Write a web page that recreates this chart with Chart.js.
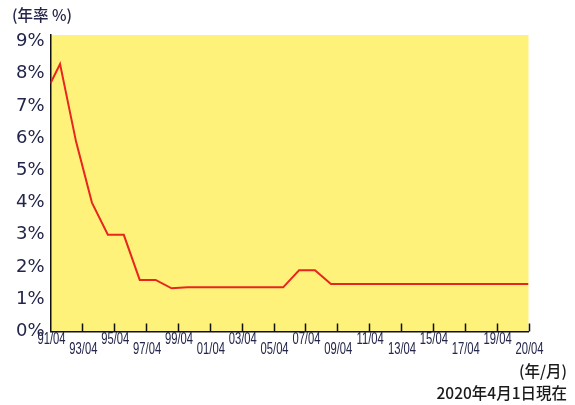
<!DOCTYPE html>
<html>
<head>
<meta charset="utf-8">
<script src="https://cdn.jsdelivr.net/npm/chart.js@4/dist/chart.umd.min.js"></script>
<style>
html,body{margin:0;padding:0;background:#fff;}
#c{display:block;}
</style>
</head>
<body>
<canvas id="c" width="575" height="405"></canvas>
<script>
// tick labels along the x axis (one per tick interval)
const xLabels = ['91/04','93/04','95/04','97/04','99/04','01/04','03/04','05/04','07/04','09/04','11/04','13/04','15/04','17/04','19/04','20/04'];
// positions of rate changes, in units of the x tick intervals above
const changePos = [0, 0.3, 0.8, 1.3, 1.8, 2.3, 2.8, 3.3, 3.8, 4.3, 7.3, 7.8, 8.3, 8.8, 9.3, 15];
// annual rate (%)
const rates = [7.7, 8.3, 5.9, 4.0, 3.0, 3.0, 1.6, 1.6, 1.34, 1.37, 1.37, 1.9, 1.9, 1.47, 1.47, 1.47];
const yTicks = [0,1,2,3,4,5,6,7,8,9];

const points = changePos.map((p, i) => ({x: p, y: rates[i]}));

const bgPlugin = {
  id: 'bg',
  beforeDraw(chart) {
    const {ctx, chartArea: a} = chart;
    ctx.save();
    ctx.fillStyle = '#fef27a';
    ctx.fillRect(a.left, a.top, a.right - a.left, a.bottom - a.top);
    ctx.restore();
  },
  afterDraw(chart) {
    const {ctx, chartArea: a} = chart;
    const xs = chart.scales.x;
    ctx.save();
    // inward tick marks
    ctx.strokeStyle = '#111';
    ctx.lineWidth = 1.5;
    ctx.beginPath();
    for (let i = 1; i < xLabels.length; i++) {
      const px = Math.round(xs.getPixelForValue(i)) + 0.5;
      ctx.moveTo(px, a.bottom);
      ctx.lineTo(px, a.bottom - 8);
    }
    ctx.stroke();
    // staggered condensed tick labels
    ctx.fillStyle = '#23254a';
    ctx.font = '17px "Liberation Sans", Arial, sans-serif';
    ctx.textAlign = 'center';
    ctx.textBaseline = 'middle';
    xLabels.forEach((lab, i) => {
      const px = xs.getPixelForValue(i) + 1;
      const py = (i % 2 === 0) ? 339.5 : 349;
      ctx.save();
      ctx.translate(px, py);
      ctx.scale(0.66, 1);
      ctx.fillText(lab, 0, 0);
      ctx.restore();
    });
    // texts
    ctx.font = '500 15.5px "Noto Sans CJK JP", sans-serif';
    ctx.fillStyle = '#23254a';
    ctx.textAlign = 'left';
    ctx.fillText('(年率 %)', 12, 15);
    ctx.textAlign = 'right';
    ctx.fillStyle = '#1a1a1a';
    ctx.font = '500 15.5px "Noto Sans CJK JP", sans-serif';
    ctx.fillText('(年/月)', 567, 371);
    ctx.fillText('2020年4月1日現在', 567, 393);
    ctx.restore();
  }
};

new Chart(document.getElementById('c'), {
  type: 'line',
  data: {
    datasets: [{
      data: points,
      borderColor: '#e8261e',
      borderWidth: 2,
      pointRadius: 0,
      tension: 0,
      fill: false
    }]
  },
  options: {
    responsive: false,
    animation: false,
    devicePixelRatio: 1,
    layout: {padding: {top: 35, right: 46.5, bottom: 0, left: 0}},
    plugins: {legend: {display: false}, tooltip: {enabled: false}},
    scales: {
      x: {
        type: 'linear',
        min: 0,
        max: xLabels.length - 1,
        grid: {display: false},
        border: {display: true, color: '#111', width: 1.5},
        ticks: {display: false, stepSize: 1},
        afterFit(s) { s.height = 73.5; }
      },
      y: {
        type: 'linear',
        min: 0,
        max: 9.2,
        grid: {display: false, drawTicks: false},
        border: {display: true, color: '#111', width: 1.5},
        afterBuildTicks(s) { s.ticks = yTicks.map(v => ({value: v})); },
        ticks: {
          padding: 6,
          color: '#23254a',
          font: {family: '"DejaVu Sans", sans-serif', size: 18},
          callback: v => v + '%'
        },
        afterFit(s) { s.width = 50.5; }
      }
    }
  },
  plugins: [bgPlugin]
});
</script>
</body>
</html>
